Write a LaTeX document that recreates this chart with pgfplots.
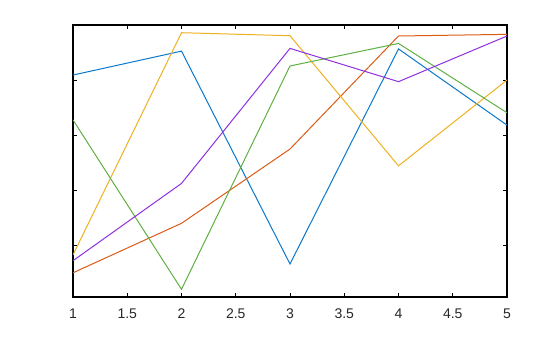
\documentclass[border=0pt]{standalone}
\usepackage{fontspec}
\setmainfont{Liberation Sans}
\usepackage{pgfplots}
\pgfplotsset{compat=1.18}
\definecolor{c1}{HTML}{0A78CC}
\definecolor{c2}{HTML}{DD5A14}
\definecolor{c3}{HTML}{EDB120}
\definecolor{c4}{HTML}{8E2FE0}
\definecolor{c5}{HTML}{5EB043}
\begin{document}
\begin{tikzpicture}
\useasboundingbox (0pt,0pt) rectangle (420pt,252.75pt);
\begin{axis}[
  at={(54.75pt,30pt)}, anchor=south west,
  scale only axis, width=325.5pt, height=204pt,
  xmin=1, xmax=5, ymin=0.011, ymax=1,
  xtick={1,1.5,...,5}, ytick={0.2,0.4,0.6,0.8}, yticklabels={},
  xticklabels={1,1.5,2,2.5,3,3.5,4,4.5,5},
  tick align=inside, major tick length=3pt,
  tick style={black, line width=0.6pt},
  axis line style={black, line width=0.8pt},
  ticklabel style={font=\fontsize{10.5}{12}\selectfont, text=black!85},
  xticklabel style={yshift=-5.5pt},
  /pgf/number format/assume math mode=true,
  every axis plot/.append style={line width=0.75pt, mark=none},
]
\addplot[c1] coordinates {(1,0.818) (2,0.905) (3,0.131) (4,0.913) (5,0.636)};
\addplot[c2] coordinates {(1,0.099) (2,0.279) (3,0.549) (4,0.960) (5,0.966)};
\addplot[c3] coordinates {(1,0.164) (2,0.972) (3,0.961) (4,0.488) (5,0.800)};
\addplot[c5] coordinates {(1,0.655) (2,0.039) (3,0.851) (4,0.933) (5,0.681)};
\addplot[c4] coordinates {(1,0.143) (2,0.424) (3,0.915) (4,0.794) (5,0.960)};
\end{axis}
\end{tikzpicture}
\end{document}
